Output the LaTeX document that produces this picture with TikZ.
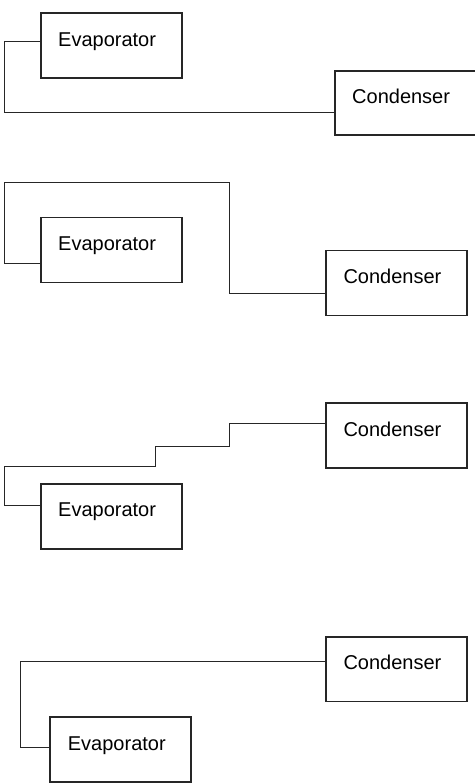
\documentclass[tikz,border=0pt]{standalone}
\usepackage{fontspec}
\setmainfont{Liberation Sans}
\begin{document}
\begin{tikzpicture}[x=1pt,y=-1pt,
  unitbox/.style={draw=black!85, line width=1.1pt, rectangle, inner sep=0pt, outer sep=0pt,
    minimum width=141pt, minimum height=65pt, anchor=north west},
  lbl/.style={inner sep=0pt, anchor=base west, font=\fontsize{20}{24}\selectfont},
  pipe/.style={draw=black!85, line width=1pt}]
\useasboundingbox (0,0) rectangle (474,783);
% Panel 1
\node[unitbox] (E1) at (41,13) {};
\node[lbl] (tE1) at (58,46.7) {Evaporator};
\node[unitbox, minimum height=64pt] (C1) at (335,71) {};
\node[lbl] (tC1) at (352,103.3) {Condenser};
\draw[pipe] (E1.west |- 0,42) -- (4,42) -- (4,113) -- (C1.west |- 0,113);
% Panel 2
\node[unitbox] (E2) at (41,217.7) {};
\node[lbl] (tE2) at (58,250.3) {Evaporator};
\node[unitbox] (C2) at (326,250.7) {};
\node[lbl] (tC2) at (343.3,283.3) {Condenser};
\draw[pipe] (E2.west |- 0,264) -- (4,264) -- (4,182.7) -- (229,182.7) -- (229,293.7) -- (C2.west |- 0,293.7);
% Panel 3
\node[unitbox] (C3) at (326,403) {};
\node[lbl] (tC3) at (343.3,436) {Condenser};
\node[unitbox] (E3) at (41,484) {};
\node[lbl] (tE3) at (58,516.7) {Evaporator};
\draw[pipe] (C3.west |- 0,423.7) -- (229,423.7) -- (229,446.3) -- (155,446.3) -- (155,466.7) -- (4,466.7) -- (4,505.3) -- (E3.west |- 0,505.3);
% Panel 4
\node[unitbox, minimum height=64.3pt] (C4) at (326,637) {};
\node[lbl] (tC4) at (343.3,669.3) {Condenser};
\node[unitbox] (E4) at (50,717) {};
\node[lbl] (tE4) at (67.7,750.7) {Evaporator};
\draw[pipe] (C4.west |- 0,661.7) -- (20,661.7) -- (20,747) -- (E4.west |- 0,747);
\end{tikzpicture}
\end{document}
